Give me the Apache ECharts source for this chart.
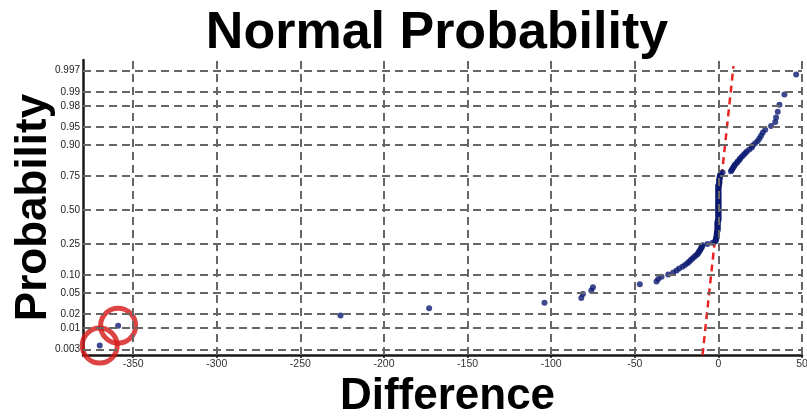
<!DOCTYPE html>
<html>
<head>
<meta charset="utf-8">
<script src="https://cdn.jsdelivr.net/npm/echarts@6/dist/echarts.min.js"></script>
<style>
  html, body { margin: 0; padding: 0; background: #fff; }
  #chart { width: 807px; height: 416px; }
</style>
</head>
<body>
<div id="chart"></div>
<script>
// Labels
const titleText = 'Normal Probability';
const xTitle = 'Difference';
const yTitle = 'Probability';

// Axis ticks
const xTicks = [-350, -300, -250, -200, -150, -100, -50, 0, 50];
const probTicks = [0.003, 0.01, 0.02, 0.05, 0.10, 0.25, 0.50, 0.75, 0.90, 0.95, 0.98, 0.99, 0.997];
const probLabels = ['0.003', '0.01', '0.02', '0.05', '0.10', '0.25', '0.50', '0.75', '0.90', '0.95', '0.98', '0.99', '0.997'];

// Sorted differences (one per observation)
const differences = [
  -370, -359, -226, -173, -104, -82, -81, -76, -75, -47,
  -37, -36, -34, -30, -27, -25, -23.5, -21.5, -20, -18.5,
  -17.5, -16.5, -15.5, -14.5, -13.5, -12.5, -12, -11.5, -11, -10.5,
  -10, -10, -9.5, -6.5, -3.5, -2, -1.5, -1.5, -1.2, -1.2,
  -1, -1, -1, -0.8, -0.8, -0.5, -0.5, -0.5, -0.5, -0.5,
  -0.5, -0.5, -0.5, -0.5, -0.5, 0, 0, 0, 0, 0,
  0, 0, 0, 0, 0, 0, 0, 0, 0, 0,
  0, 0, 0, 0, 0, 0, 0, 0, 0, 0,
  0, 0, 0, 0, 0, 0, 0, 0, 0, 0,
  0, 0, 0.5, 0.5, 0.5, 0.5, 0.5, 0.8, 0.8, 0.8,
  1, 1.5, 2.5, 7.5, 8, 8.5, 9, 9.5, 10, 11,
  11.5, 12.5, 13, 14, 15, 16, 17, 18.5, 20, 20.5,
  22, 23.5, 24.5, 25.5, 26.5, 28, 31.5, 34, 34.5, 35.5,
  36.5, 39.5, 46.5
];

// Number of lowest observations that are ringed as outliers
const flaggedCount = 2;

// Reference normal line (mean, standard deviation) and its z extent
const refMean = -0.2;
const refSd = 3.25;
const refZ = [-2.86, 2.84];

// Inverse standard normal CDF (Acklam's rational approximation)
function qnorm(p) {
  const a = [-3.969683028665376e+01, 2.209460984245205e+02, -2.759285104469687e+02, 1.383577518672690e+02, -3.066479806614716e+01, 2.506628277459239e+00];
  const b = [-5.447609879822406e+01, 1.615858368580409e+02, -1.556989798598866e+02, 6.680131188771972e+01, -1.328068155288572e+01];
  const c = [-7.784894002430293e-03, -3.223964580411365e-01, -2.400758277161838e+00, -2.549732539343734e+00, 4.374664141464968e+00, 2.938163982698783e+00];
  const d = [7.784695709041462e-03, 3.224671290700398e-01, 2.445134137142996e+00, 3.754408661907416e+00];
  const pl = 0.02425, ph = 1 - pl;
  let q, r;
  if (p < pl) {
    q = Math.sqrt(-2 * Math.log(p));
    return (((((c[0] * q + c[1]) * q + c[2]) * q + c[3]) * q + c[4]) * q + c[5]) /
           ((((d[0] * q + d[1]) * q + d[2]) * q + d[3]) * q + 1);
  }
  if (p <= ph) {
    q = p - 0.5; r = q * q;
    return (((((a[0] * r + a[1]) * r + a[2]) * r + a[3]) * r + a[4]) * r + a[5]) * q /
           (((((b[0] * r + b[1]) * r + b[2]) * r + b[3]) * r + b[4]) * r + 1);
  }
  q = Math.sqrt(-2 * Math.log(1 - p));
  return -(((((c[0] * q + c[1]) * q + c[2]) * q + c[3]) * q + c[4]) * q + c[5]) /
          ((((d[0] * q + d[1]) * q + d[2]) * q + d[3]) * q + 1);
}

// Plotting positions (i - 0.5) / n mapped to normal scores
const n = differences.length;
const points = differences.map((v, i) => [v, qnorm((i + 0.5) / n)]);
const refLine = refZ.map(z => [refMean + refSd * z, z]);

const gridStyle = { color: '#666666', width: 2, type: [8, 5] };

const gridLines = [
  ...probTicks.map((p, i) => ({
    yAxis: qnorm(p),
    label: {
      show: true, position: 'start', distance: 3,
      formatter: probLabels[i],
      fontFamily: 'Liberation Sans', fontSize: 10, color: '#222'
    }
  })),
  ...xTicks.map(v => ({ xAxis: v, label: { show: false } }))
];

const chart = echarts.init(document.getElementById('chart'));
chart.setOption({
  animation: false,
  backgroundColor: '#ffffff',
  grid: { left: 83, right: 5, top: 60, bottom: 61, outerBoundsMode: 'none', containLabel: false },
  graphic: [{
    type: 'text',
    style: {
      text: titleText,
      x: 437, y: 8,
      textAlign: 'center',
      textVerticalAlign: 'top',
      font: 'bold 52px "Liberation Sans"',
      fill: '#000'
    }
  }],
  xAxis: {
    type: 'value',
    min: -380, max: 50,
    name: xTitle,
    nameLocation: 'middle',
    nameGap: 14,
    nameTextStyle: { fontFamily: 'Liberation Sans', fontWeight: 'bold', fontSize: 44, color: '#000', verticalAlign: 'top', padding: [0, 0, 0, 10] },
    axisLine: { onZero: false, lineStyle: { color: '#1a1612', width: 2.5 } },
    axisTick: { show: true, length: 3, customValues: xTicks, lineStyle: { color: '#1a1612', width: 1.5 } },
    axisLabel: { customValues: xTicks, margin: 4, fontFamily: 'Liberation Sans', fontSize: 10.5, color: '#333' },
    splitLine: { show: false }
  },
  yAxis: {
    type: 'value',
    min: -2.86, max: 2.96,
    name: yTitle,
    nameLocation: 'middle',
    nameGap: 27,
    nameTextStyle: { fontFamily: 'Liberation Sans', fontWeight: 'bold', fontSize: 44, color: '#000' },
    axisLine: { onZero: false, lineStyle: { color: '#1a1612', width: 2.5 } },
    axisTick: { show: false },
    axisLabel: { show: false },
    splitLine: { show: false }
  },
  series: [
    {
      type: 'line',
      data: [],
      silent: true,
      z: 1,
      markLine: {
        silent: true,
        animation: false,
        symbol: ['none', 'none'],
        lineStyle: gridStyle,
        data: gridLines
      }
    },
    {
      type: 'line',
      data: refLine,
      showSymbol: false,
      silent: true,
      z: 2,
      lineStyle: { color: '#e82420', width: 2.5, type: [7, 5] }
    },
    {
      type: 'scatter',
      data: points,
      symbolSize: 6,
      z: 3,
      itemStyle: { color: '#0c1a72' }
    },
    {
      type: 'scatter',
      data: points.slice(0, flaggedCount),
      symbol: 'circle',
      symbolSize: 35,
      z: 4,
      itemStyle: { color: 'rgba(0,0,0,0)', borderColor: '#d41515', borderWidth: 5 }
    }
  ]
});
</script>
</body>
</html>
